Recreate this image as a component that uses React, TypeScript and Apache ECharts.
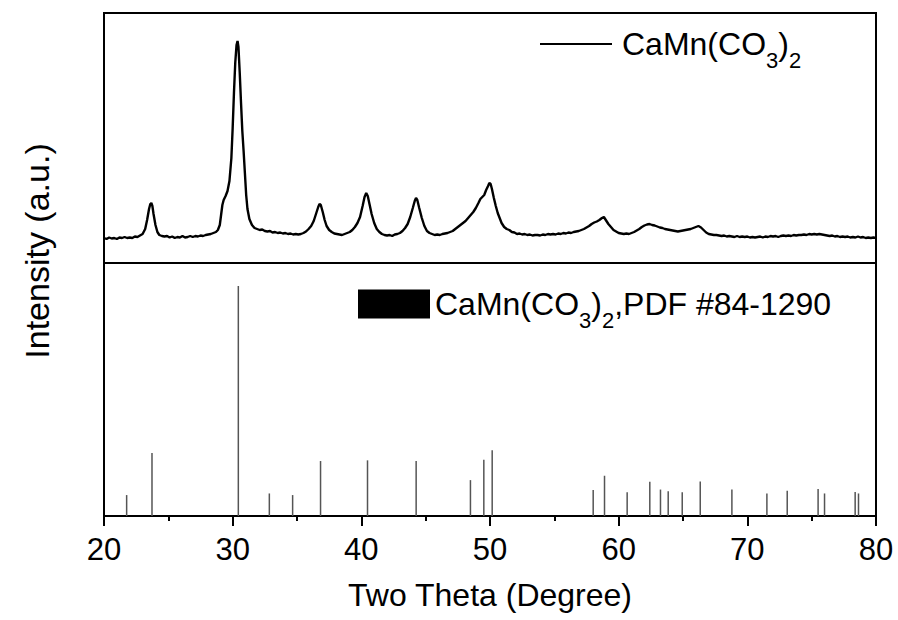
import React, { useEffect, useRef } from "react";
import * as echarts from "echarts";

// Measured XRD scan of CaMn(CO3)2: [2θ (degree), intensity (a.u.)]
const xrdScan: [number, number][] = [
  [20.0, 25], [20.2, 24], [20.4, 25.5], [20.6, 24.5], [20.8, 25], [21.0, 24], [21.2, 25.5], [21.4, 25],
  [21.6, 26], [21.8, 25], [22.0, 25.5], [22.2, 25], [22.4, 26.5], [22.6, 26], [22.8, 27.5], [23.0, 29],
  [23.2, 34], [23.35, 43], [23.5, 54], [23.6, 59], [23.68, 60], [23.76, 57], [23.85, 49], [24.0, 38],
  [24.15, 31], [24.3, 28], [24.5, 27], [24.7, 26.5], [24.9, 27], [25.1, 25.5], [25.3, 26.5], [25.5, 25],
  [25.7, 26], [25.9, 25.5], [26.1, 27], [26.3, 25.5], [26.5, 26], [26.7, 27], [26.9, 26], [27.1, 27],
  [27.3, 26.5], [27.5, 27.5], [27.7, 27], [27.9, 28], [28.1, 28.5], [28.3, 29], [28.5, 30], [28.7, 31],
  [28.85, 33], [29.0, 38], [29.1, 48], [29.2, 58], [29.3, 63], [29.45, 67], [29.6, 72], [29.75, 82],
  [29.9, 105], [30.0, 135], [30.1, 170], [30.2, 200], [30.3, 218], [30.38, 222], [30.45, 216], [30.55, 190],
  [30.65, 160], [30.75, 132], [30.85, 112], [30.95, 90], [31.05, 68], [31.15, 54], [31.3, 44], [31.5, 38],
  [31.7, 35], [31.9, 34], [32.1, 33], [32.3, 33.5], [32.5, 32], [32.7, 31.5], [32.9, 32], [33.1, 30.5],
  [33.3, 31], [33.5, 30], [33.7, 30.5], [33.9, 29.5], [34.1, 30], [34.3, 29], [34.5, 29.5], [34.7, 28.5],
  [34.9, 29], [35.1, 28.5], [35.3, 29], [35.5, 30], [35.7, 31.5], [35.9, 34], [36.1, 37], [36.3, 42],
  [36.5, 50], [36.65, 56], [36.75, 59], [36.85, 58], [37.0, 51], [37.15, 43], [37.3, 37], [37.5, 33],
  [37.7, 31], [37.9, 29.5], [38.1, 29], [38.3, 28.5], [38.5, 28], [38.7, 29], [38.9, 30], [39.1, 31],
  [39.3, 33], [39.5, 36], [39.7, 40], [39.9, 46], [40.1, 57], [40.25, 66], [40.38, 70], [40.5, 67],
  [40.65, 58], [40.8, 49], [41.0, 40], [41.2, 34], [41.4, 31], [41.6, 29], [41.8, 28], [42.0, 27.5],
  [42.2, 28], [42.4, 27], [42.6, 28.5], [42.8, 29], [43.0, 30], [43.2, 32], [43.4, 35], [43.6, 39],
  [43.8, 46], [44.0, 55], [44.15, 62], [44.25, 65], [44.35, 63], [44.5, 55], [44.7, 45], [44.9, 37],
  [45.1, 32], [45.3, 30], [45.5, 29], [45.7, 28], [45.9, 28.5], [46.1, 28], [46.3, 29], [46.5, 29.5],
  [46.7, 30], [46.9, 31], [47.1, 32], [47.3, 34], [47.5, 36], [47.7, 38], [47.9, 40], [48.1, 42],
  [48.3, 45], [48.5, 48], [48.7, 51], [48.9, 55], [49.1, 60], [49.25, 64], [49.4, 66], [49.55, 68],
  [49.7, 73], [49.85, 77], [49.95, 80], [50.05, 79], [50.15, 74], [50.3, 65], [50.45, 57], [50.6, 50],
  [50.75, 45], [50.9, 40], [51.1, 36], [51.3, 34], [51.5, 33], [51.7, 31], [51.9, 30.5], [52.1, 29],
  [52.3, 29.5], [52.5, 28.5], [52.7, 29], [52.9, 28], [53.1, 28.5], [53.3, 27.5], [53.5, 28], [53.7, 28],
  [53.9, 27.5], [54.1, 28.5], [54.3, 28], [54.5, 29], [54.7, 28.5], [54.9, 29], [55.1, 28.5], [55.3, 29.5],
  [55.5, 29], [55.7, 30], [55.9, 29.5], [56.1, 30.5], [56.3, 30], [56.5, 31], [56.7, 31.5], [56.9, 32],
  [57.1, 33], [57.3, 34], [57.5, 35.5], [57.7, 37], [57.9, 39], [58.1, 40.5], [58.3, 41.5], [58.5, 43],
  [58.7, 45], [58.85, 46], [59.0, 43], [59.2, 39], [59.4, 36], [59.6, 33], [59.8, 31.5], [60.0, 30],
  [60.2, 29.5], [60.4, 29], [60.6, 29.5], [60.8, 29], [61.0, 30], [61.2, 31], [61.4, 32.5], [61.6, 34],
  [61.8, 36], [62.0, 37.5], [62.2, 38.5], [62.4, 39], [62.6, 38], [62.8, 37.5], [63.0, 36.5], [63.2, 35.5],
  [63.4, 35], [63.6, 34], [63.8, 33.5], [64.0, 33], [64.2, 32.5], [64.4, 32], [64.6, 31.5], [64.8, 32],
  [65.0, 32.5], [65.2, 33], [65.4, 33.5], [65.6, 34], [65.8, 35], [66.0, 36], [66.2, 37], [66.4, 35.5],
  [66.6, 33], [66.8, 30.5], [67.0, 29], [67.2, 28.5], [67.4, 28], [67.6, 28], [67.8, 27.5], [68.0, 27],
  [68.2, 27.5], [68.4, 26.5], [68.6, 27], [68.8, 26.5], [69.0, 26], [69.2, 27], [69.4, 26], [69.6, 26.5],
  [69.8, 26], [70.0, 26.5], [70.2, 25.5], [70.4, 26], [70.6, 25.5], [70.8, 26], [71.0, 26.5], [71.2, 25.5],
  [71.4, 26.5], [71.6, 26], [71.8, 27], [72.0, 26.5], [72.2, 27], [72.4, 26], [72.6, 27], [72.8, 27.5],
  [73.0, 27], [73.2, 27.5], [73.4, 27], [73.6, 28], [73.8, 27.5], [74.0, 28], [74.2, 28], [74.4, 28.5],
  [74.6, 28], [74.8, 29], [75.0, 28.5], [75.2, 29], [75.4, 28.5], [75.6, 29], [75.8, 28.5], [76.0, 28],
  [76.2, 27.5], [76.4, 27], [76.6, 27.5], [76.8, 26.5], [77.0, 27], [77.2, 26], [77.4, 26.5], [77.6, 26],
  [77.8, 26.5], [78.0, 25.5], [78.2, 26], [78.4, 25.5], [78.6, 26.5], [78.8, 25.5], [79.0, 26], [79.2, 25],
  [79.4, 25.5], [79.6, 25], [79.8, 25.5], [80.0, 25],
];

// Reference pattern PDF #84-1290
const pdfTheta = [
  21.76, 23.73, 30.44, 32.85, 34.66, 36.83, 40.48, 44.26, 48.48, 49.52, 50.17, 58.02, 58.9,
  60.66, 62.42, 63.25, 63.85, 64.94, 66.34, 68.8, 71.52, 73.1, 75.5, 76.0, 78.38, 78.64,
];
const pdfIntensity = [
  9.1, 27.4, 100, 9.8, 9.1, 23.9, 24.2, 23.9, 15.6, 24.5, 28.6, 11.3, 17.5,
  10.3, 14.9, 11.5, 10.8, 10.3, 15.0, 11.5, 9.8, 11.0, 11.7, 9.8, 10.4, 9.8,
];

const xTickLabels = [20, 30, 40, 50, 60, 70, 80];
const sampleName = "CaMn(CO3)2";
const pdfName = "CaMn(CO3)2,PDF #84-1290";
const xTitle = "Two Theta (Degree)";
const yTitle = "Intensity (a.u.)";

const FONT = "'Liberation Sans', Arial, Helvetica, sans-serif";

export default function App() {
  const ref = useRef<HTMLDivElement>(null);
  useEffect(() => {
    if (!ref.current) return;
    const chart = echarts.init(ref.current, null, { renderer: "svg" });
    const pdfData = pdfTheta.map((t, i) => [t, pdfIntensity[i]]);
    const rich = {
      m: { fontSize: 32, fontFamily: FONT, color: "#000" },
      m0: { fontSize: 32, fontFamily: FONT, color: "#000", padding: [0, 0, 0, 5] },
      s: { fontSize: 22, fontFamily: FONT, color: "#000", padding: [32, 0, 0, 0] },
    };
    const fmt = (name: string) =>
      name === sampleName
        ? "{m0|CaMn(CO}{s|3}{m|)}{s|2}"
        : "{m|CaMn(CO}{s|3}{m|)}{s|2}{m|,PDF #84-1290}";
    chart.setOption({
      animation: false,
      backgroundColor: "#fff",
      textStyle: { fontFamily: FONT },
      grid: [
        { left: 104, right: 22, top: 13, height: 250, show: true, borderColor: "#000", borderWidth: 2, backgroundColor: "transparent" },
        { left: 104, right: 22, top: 263, height: 253, show: true, borderColor: "#000", borderWidth: 2, backgroundColor: "transparent" },
      ],
      xAxis: [
        { type: "value", gridIndex: 0, min: 20, max: 80, show: false },
        {
          type: "value",
          gridIndex: 1,
          min: 20,
          max: 80,
          interval: 10,
          name: xTitle,
          nameLocation: "middle",
          nameGap: 63,
          nameTextStyle: { fontSize: 32, fontFamily: FONT, color: "#000" },
          axisLine: { show: true, lineStyle: { color: "#000", width: 2 } },
          axisTick: { show: true, inside: false, length: 10, lineStyle: { color: "#000", width: 2 } },
          minorTick: { show: true, splitNumber: 2, length: 5, lineStyle: { color: "#000", width: 2 } },
          splitLine: { show: false },
          axisLabel: {
            show: true,
            margin: 18,
            fontSize: 31,
            fontFamily: FONT,
            color: "#000",
            formatter: (v: number) => (xTickLabels.includes(v) ? String(v) : ""),
          },
        },
      ],
      yAxis: [
        { type: "value", gridIndex: 0, min: 0, max: 250, show: false },
        { type: "value", gridIndex: 1, min: 0, max: 110, show: false },
      ],
      legend: [
        {
          data: [{ name: sampleName, icon: "rect", itemStyle: { color: "#000" } }],
          left: 540,
          top: 28,
          padding: 0,
          itemWidth: 72,
          itemHeight: 2,
          selectedMode: false,
          formatter: fmt,
          textStyle: { rich },
        },
        {
          data: [{ name: pdfName, icon: "rect", itemStyle: { color: "#000" } }],
          left: 358,
          top: 288,
          padding: 0,
          itemWidth: 72,
          itemHeight: 29,
          selectedMode: false,
          formatter: fmt,
          textStyle: { rich },
        },
      ],
      graphic: [
        {
          type: "text",
          x: 37,
          y: 251,
          rotation: Math.PI / 2,
          style: {
            text: yTitle,
            fontSize: 34,
            fontFamily: FONT,
            fill: "#000",
            align: "center",
            verticalAlign: "middle",
          },
        },
      ],
      series: [
        {
          name: sampleName,
          type: "line",
          xAxisIndex: 0,
          yAxisIndex: 0,
          data: xrdScan,
          showSymbol: false,
          symbol: "none",
          lineStyle: { color: "#000", width: 2.4 },
          itemStyle: { color: "#000" },
        },
        {
          name: pdfName,
          type: "bar",
          xAxisIndex: 1,
          yAxisIndex: 1,
          data: pdfData,
          barWidth: 1.5,
          itemStyle: { color: "#555" },
        },
      ],
    });
    return () => chart.dispose();
  }, []);
  return (
    <div
      ref={ref}
      style={{ position: "fixed", left: 0, top: 0, width: 898, height: 620, background: "#fff" }}
    />
  );
}
